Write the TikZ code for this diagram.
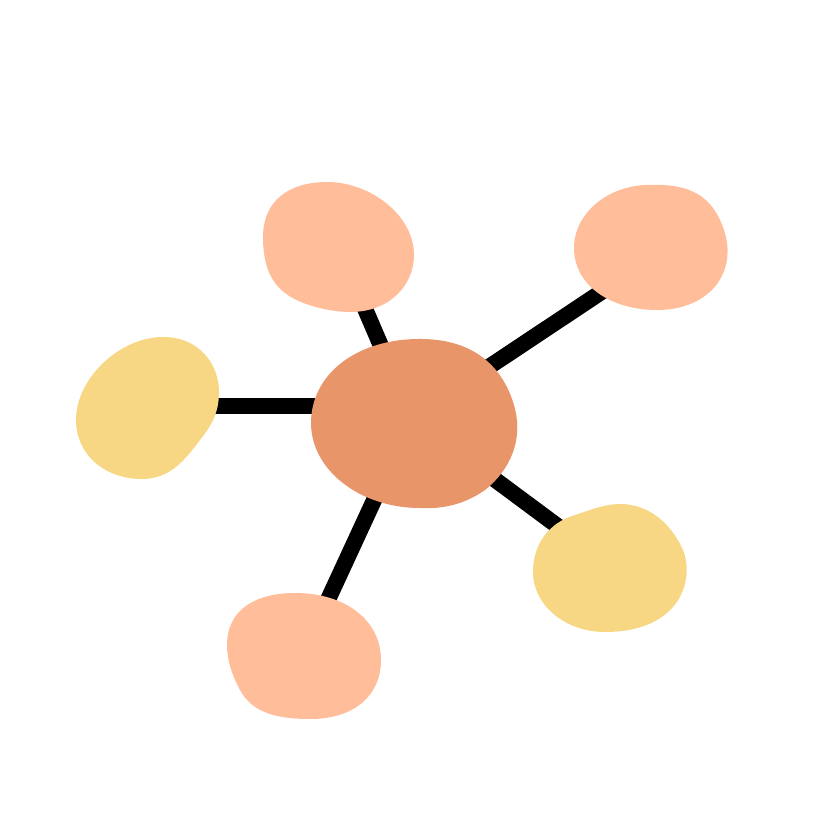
\documentclass[tikz,border=0pt]{standalone}
\usepackage{tikz}
\usepackage{xcolor}
\definecolor{hubclr}{RGB}{232,149,106}
\definecolor{peach}{RGB}{255,190,153}
\definecolor{sand}{RGB}{247,215,131}

\begin{document}
\begin{tikzpicture}[x=0.75pt,y=0.75pt,yscale=-1,xscale=1,
    link/.style={draw=black,line width=12pt},
    hubblob/.style={fill=hubclr,draw=none},
    peachblob/.style={fill=peach,draw=none},
    sandblob/.style={fill=sand,draw=none}]
        \useasboundingbox (0,0) rectangle (834,834); %diagram is 834 by 834
        
        % centres of the blobs
        \coordinate (hub) at (412,418);
        \coordinate (topleft) at (338,246);
        \coordinate (topright) at (651,259);
        \coordinate (left) at (147,406);
        \coordinate (botright) at (610,565);
        \coordinate (bottom) at (302,656);
        
        %Straight Lines
        \draw [link] (hub) -- (topleft);
        \draw [link] (hub) -- (topright);
        \draw [link] (left) -- (left -| hub);
        \draw [link] (hub) -- (botright);
        \draw [link] (hub) -- (bottom);
        
        %Shape: Blob (hub)
        \path [hubblob] (417,339) .. controls (472,338) and (502,365) .. (514,405) .. controls (524,440) and (510,470) .. (485,490) .. controls (462,506) and (440,509) .. (420,508) .. controls (360,508) and (311,470) .. (311,423) .. controls (311,375) and (355,340) .. (417,339) -- cycle ;
        %Shape: Blob (top left)
        \path [peachblob] (327,182) .. controls (370,182) and (414,215) .. (414,255) .. controls (414,285) and (390,312) .. (350,312) .. controls (330,312) and (300,305) .. (285,293) .. controls (268,280) and (263,260) .. (263,237) .. controls (263,200) and (290,182) .. (327,182) -- cycle ;
        %Shape: Blob (top right)
        \path [peachblob] (645,185) .. controls (690,183) and (712,195) .. (724,230) .. controls (738,272) and (710,310) .. (657,310) .. controls (610,310) and (574,285) .. (574,248) .. controls (574,215) and (605,187) .. (645,185) -- cycle ;
        %Shape: Blob (left)
        \path [sandblob] (163,337) .. controls (200,337) and (219,365) .. (219,392) .. controls (219,412) and (212,425) .. (200,440) .. controls (185,460) and (170,479) .. (142,479) .. controls (105,479) and (76,455) .. (76,420) .. controls (76,378) and (120,337) .. (163,337) -- cycle ;
        %Shape: Blob (bottom right)
        \path [sandblob] (620,504) .. controls (650,504) and (672,525) .. (683,550) .. controls (695,580) and (680,632) .. (605,632) .. controls (565,632) and (533,605) .. (533,572) .. controls (533,545) and (548,523) .. (575,515) .. controls (590,510) and (605,504) .. (620,504) -- cycle ;
        %Shape: Blob (bottom)
        \path [peachblob] (295,593) .. controls (345,593) and (381,620) .. (381,660) .. controls (381,695) and (355,719) .. (310,719) .. controls (275,719) and (252,712) .. (240,690) .. controls (232,675) and (227,660) .. (227,645) .. controls (227,610) and (255,593) .. (295,593) -- cycle ;
        
\end{tikzpicture}
\end{document}
